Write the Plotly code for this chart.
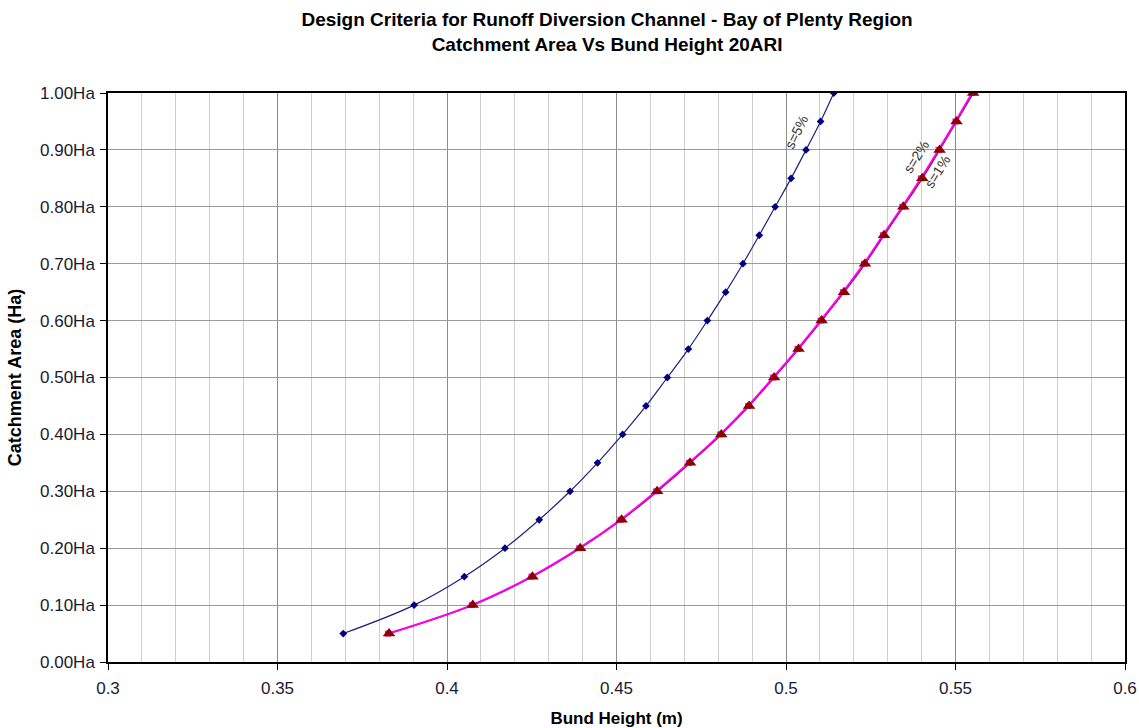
import plotly.graph_objects as go

# Catchment area (Ha) values at which points are plotted
area = [0.05, 0.10, 0.15, 0.20, 0.25, 0.30, 0.35, 0.40, 0.45, 0.50,
        0.55, 0.60, 0.65, 0.70, 0.75, 0.80, 0.85, 0.90, 0.95, 1.00]

# Bund height (m) for slope 5%
h_s5 = [0.3694, 0.3903, 0.4051, 0.4171, 0.4272, 0.4363, 0.4444, 0.4518, 0.4587, 0.4650,
        0.4712, 0.4768, 0.4822, 0.4873, 0.4921, 0.4968, 0.5015, 0.5059, 0.5102, 0.5141]

# Bund height (m) for slope 2%
h_s2 = [0.3826, 0.4073, 0.4249, 0.4390, 0.4512, 0.4617, 0.4714, 0.4806, 0.4888, 0.4962,
        0.5034, 0.5102, 0.5168, 0.5230, 0.5286, 0.5343, 0.5398, 0.5450, 0.5500, 0.5549]

# Bund height (m) for slope 1%
h_s1 = [0.3829, 0.4076, 0.4252, 0.4393, 0.4515, 0.4620, 0.4717, 0.4809, 0.4891, 0.4965,
        0.5037, 0.5105, 0.5171, 0.5233, 0.5289, 0.5346, 0.5402, 0.5453, 0.5503, 0.5552]

series_labels = ["s=5%", "s=2%", "s=1%"]

x_ticks = [0.3, 0.35, 0.4, 0.45, 0.5, 0.55, 0.6]

title_lines = ["Design Criteria for Runoff Diversion Channel - Bay of Plenty Region",
               "Catchment Area Vs Bund Height 20ARI"]

FONT = "Liberation Sans, Arial, sans-serif"

fig = go.Figure()

fig.add_trace(go.Scatter(
    x=h_s5, y=area, mode="lines+markers", name=series_labels[0],
    line=dict(color="#1f1f80", width=1.2, shape="spline"),
    marker=dict(color="#000080", size=6, symbol="diamond"),
))
# s=1% line underneath
fig.add_trace(go.Scatter(
    x=h_s1, y=area, mode="lines", name=series_labels[2],
    line=dict(color="#800000", width=1.5, shape="spline"),
    hoverinfo="skip",
))
# s=2% magenta line and squares
fig.add_trace(go.Scatter(
    x=h_s2, y=area, mode="lines+markers", name=series_labels[1],
    line=dict(color="#ff00ff", width=2, shape="spline"),
    marker=dict(color="#ff00ff", size=6, symbol="square"),
))
# s=1% triangle markers on top
fig.add_trace(go.Scatter(
    x=h_s1, y=area, mode="markers", name=series_labels[2],
    marker=dict(color="#8b0000", size=11, symbol="triangle-up"),
))

# Series labels along curves
fig.add_annotation(x=h_s5[17] - 0.0028, y=area[18] - 0.019, text=series_labels[0],
                   showarrow=False, textangle=-64,
                   font=dict(family=FONT, size=14, color="#333333"))
fig.add_annotation(x=h_s2[16] - 0.0014, y=area[16] + 0.037, text=series_labels[1],
                   showarrow=False, textangle=-58,
                   font=dict(family=FONT, size=14, color="#333333"))
fig.add_annotation(x=h_s1[16] + 0.0044, y=area[16] + 0.011, text=series_labels[2],
                   showarrow=False, textangle=-58,
                   font=dict(family=FONT, size=14, color="#333333"))

fig.update_layout(
    width=1139, height=728,
    margin=dict(l=108, r=14, t=93, b=66, autoexpand=False),
    paper_bgcolor="white", plot_bgcolor="white",
    showlegend=False,
    title=dict(text="<b>" + title_lines[0] + "<br>" + title_lines[1] + "</b>",
               x=0.533, xanchor="center", y=0.9643, yanchor="top",
               font=dict(family=FONT, size=19, color="black")),
    font=dict(family=FONT, size=15, color="black"),
)

fig.update_xaxes(
    range=[0.3, 0.6], tickvals=x_ticks, ticktext=[str(v) for v in x_ticks],
    showgrid=True, gridcolor="#8c8c8c", gridwidth=1,
    minor=dict(dtick=0.01, tick0=0.3, showgrid=True, gridcolor="#cfcfcf", gridwidth=1),
    showline=True, linecolor="black", linewidth=1.5, mirror=True,
    ticks="outside", ticklen=6, tickcolor="black",
    zeroline=False, automargin=False, ticklabelstandoff=4,
    title=dict(text="<b>Bund Height (m)</b>", font=dict(family=FONT, size=17), standoff=20),
    tickfont=dict(family=FONT, size=17, color="#1a1a33"),
)
fig.update_yaxes(
    range=[0, 1.0], dtick=0.1, tick0=0, tickformat=".2f", ticksuffix="Ha",
    showgrid=True, gridcolor="#9a9a9a", gridwidth=1,
    showline=True, linecolor="black", linewidth=1.5, mirror=True,
    ticks="outside", ticklen=6, tickcolor="black",
    zeroline=False, automargin=False, ticklabelstandoff=2,
    title=dict(text="<b>Catchment Area (Ha)</b>", font=dict(family=FONT, size=18), standoff=14),
    tickfont=dict(family=FONT, size=17, color="#1a1a33"),
)

# Remove the browser's default 8px body margin so the figure fills the window exactly
fig.write_html("out.html",
               config={"displayModeBar": False},
               post_script="document.body.style.margin='0';document.body.style.overflow='hidden';")
